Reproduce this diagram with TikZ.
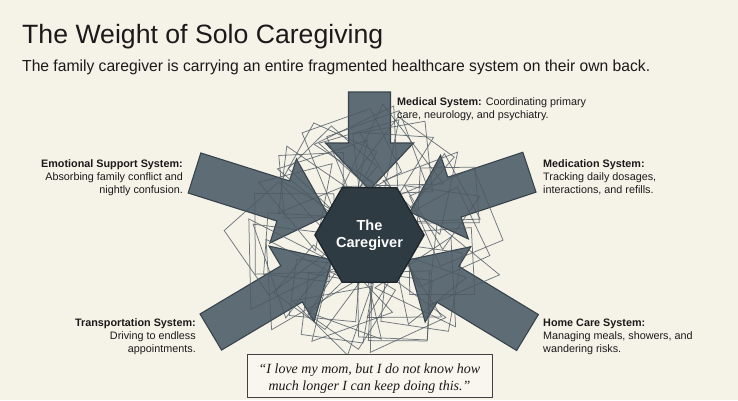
\documentclass[tikz,border=0pt]{standalone}
\usepackage{fontspec}
\usepackage{graphicx}
\setmainfont{Liberation Sans}
\newfontfamily\quotefont{Liberation Serif}
\usetikzlibrary{shapes.geometric}
\definecolor{bgc}{HTML}{F5F2E8}
\definecolor{arrowfill}{HTML}{5E6C75}
\definecolor{arrowline}{HTML}{38444C}
\definecolor{hexfill}{HTML}{2F3B43}
\definecolor{hexline}{HTML}{1C252B}
\definecolor{tanglec}{HTML}{4E5961}
\definecolor{txt}{HTML}{1A1A1A}
\definecolor{boxfill}{HTML}{F8F6EF}
\newcommand\sysarrow[4]{%
  \begin{scope}[shift={(#1,#2)},rotate=#3]
    \draw[sysarrowstyle] (0,-21) -- ({#4-47},-21) -- ({#4-47},-44) -- (#4,0)
      -- ({#4-47},44) -- ({#4-47},21) -- (0,21) -- cycle;
  \end{scope}}
\tikzset{
  sysarrowstyle/.style={fill=arrowfill, draw=arrowline, line width=1.1pt, line join=miter},
  tangle/.style={draw=tanglec, line width=0.75pt, opacity=0.8, line join=miter},
  lbl/.style={inner sep=0, text=txt, font=\fontsize{10.8}{13}\selectfont},
}
\begin{document}
\begin{tikzpicture}[x=1pt,y=-1pt]
\fill[bgc] (0,0) rectangle (738,400);
\useasboundingbox (0,0) rectangle (738,400);

% title and subtitle
\node[anchor=base west, inner sep=0, text=txt] (title) at (22,43.3)
  {\resizebox{361pt}{\height}{\fontsize{26.5}{30}\selectfont The Weight of Solo Caregiving}};
\node[anchor=base west, inner sep=0, text=txt] (subtitle) at (22,71.7)
  {\resizebox{628pt}{\height}{\fontsize{16}{19}\selectfont The family caregiver is carrying an entire fragmented healthcare system on their own back.}};

% arrows
\sysarrow{369.5}{92}{-90}{98}
\sysarrow{194.5}{173}{-17.5}{140}
\sysarrow{529.4}{172.2}{198.4}{126}
\sysarrow{210.8}{332}{30.8}{141}
\sysarrow{527.5}{332.5}{148.8}{140}

% tangle of triangles and squares around the caregiver
\begin{scope}[shift={(369.5,235)}]
\pgfmathsetseed{11}
\foreach \i in {1,...,42}{
  \pgfmathsetmacro\t{8.6*\i+20*rand}
  \pgfmathsetmacro\d{70+22*rnd}
  \pgfmathsetmacro\cx{\d*cos(\t)}
  \pgfmathsetmacro\cy{0.95*\d*sin(\t)}
  \pgfmathsetmacro\s{40+18*rnd}
  \pgfmathsetmacro\r{360*rnd}
  \ifodd\i
    \pgfmathsetmacro\aA{\r}
    \pgfmathsetmacro\aB{\r+120+12*rand}
    \pgfmathsetmacro\aC{\r+240+12*rand}
    \draw[tangle] (\cx,\cy) ++(\aA:\s) coordinate (p1)
      (\cx,\cy) ++(\aB:\s) coordinate (p2)
      (\cx,\cy) ++(\aC:\s) coordinate (p3)
      (p1) -- (p2) -- (p3) -- cycle;
  \else
    \pgfmathsetmacro\aA{\r}
    \pgfmathsetmacro\aB{\r+90+8*rand}
    \pgfmathsetmacro\aC{\r+180+8*rand}
    \pgfmathsetmacro\aD{\r+270+8*rand}
    \draw[tangle] (\cx,\cy) ++(\aA:\s) coordinate (p1)
      (\cx,\cy) ++(\aB:\s) coordinate (p2)
      (\cx,\cy) ++(\aC:\s) coordinate (p3)
      (\cx,\cy) ++(\aD:\s) coordinate (p4)
      (p1) -- (p2) -- (p3) -- (p4) -- cycle;
  \fi
}
\end{scope}

% hexagon
\node[regular polygon, regular polygon sides=6, minimum size=102pt, inner sep=0,
  fill=hexfill, draw=hexline, line width=1.3pt, text=white, align=center,
  font=\fontsize{14.5}{17.4}\selectfont\bfseries] (cg) at (369.5,235) {The\\Caregiver};

% labels (anchor = baseline of last line)
\node[lbl, anchor=base west, align=left] (medical) at (397,118.7)
  {\textbf{Medical System:} Coordinating primary\\care, neurology, and psychiatry.};
\node[lbl, anchor=base east, align=right] (emotional) at (183,193.3)
  {\textbf{Emotional Support System:}\\Absorbing family conflict and\\nightly confusion.};
\node[lbl, anchor=base west, align=left] (medication) at (543,193.3)
  {\textbf{Medication System:}\\Tracking daily dosages,\\interactions, and refills.};
\node[lbl, anchor=base east, align=right] (transport) at (196,352)
  {\textbf{Transportation System:}\\Driving to endless\\appointments.};
\node[lbl, anchor=base west, align=left] (homecare) at (543,352)
  {\textbf{Home Care System:}\\Managing meals, showers, and\\wandering risks.};

% quote
\draw[fill=boxfill, draw=black!75, line width=1pt] (247,354) rectangle (492,397);
\node[inner sep=0, text=txt, align=center, anchor=base, font=\quotefont\itshape\fontsize{14}{17}\selectfont] (quote) at (369.5,390)
  {“I love my mom, but I do not know how\\much longer I can keep doing this.”};
\end{tikzpicture}
\end{document}
